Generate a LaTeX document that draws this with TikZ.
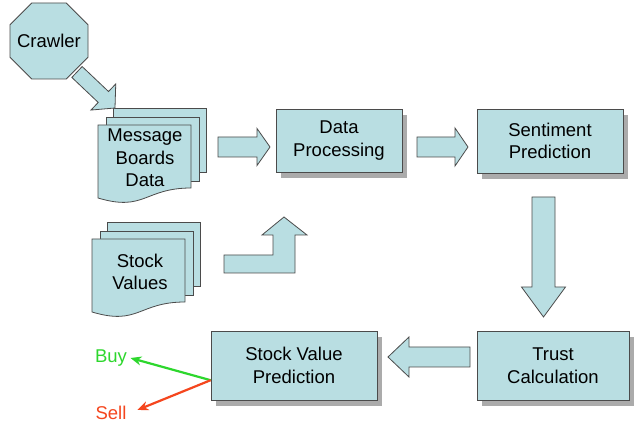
\documentclass[tikz,border=0pt]{standalone}
\usepackage{fontspec}
\setmainfont{Liberation Sans}
\usetikzlibrary{shapes.misc,shadows,calc,arrows.meta}

\definecolor{paleblue}{RGB}{185,222,226}
\definecolor{edgegray}{RGB}{75,75,75}
\definecolor{buygreen}{RGB}{45,215,45}
\definecolor{sellred}{RGB}{245,70,30}

% stack of three pages, #1,#2 = top left corner of the front page
\newcommand{\docstack}[2]{%
  \draw[page] ({#1+15},{#2-17}) rectangle ++(93,64);
  \draw[page] ({#1+8},{#2-8}) rectangle ++(93,64);
  \draw[page] (#1,#2) -- ++(93,0) -- ++(0,63)
    .. controls ({#1+46.5},{#2+63}) and ({#1+46.5},{#2+87}) .. (#1,{#2+73}) -- cycle;}

% fat arrow from #1 to #2: shaft half width #3, head half width #4, head length #5
\newcommand{\blockarrow}[5]{%
  \draw[fatarrow] let \p1=($(#2)-(#1)$), \n1={veclen(\x1,\y1)}, \n2={atan2(\y1,\x1)} in
    [shift={(#1)}, rotate=\n2]
    (0pt,#3pt) -- ({\n1-#5pt},#3pt) -- ({\n1-#5pt},#4pt) -- (\n1,0pt)
    -- ({\n1-#5pt},-#4pt) -- ({\n1-#5pt},-#3pt) -- (0pt,-#3pt) -- cycle;}

\begin{document}
\begin{tikzpicture}[x=1pt, y=-1pt,
    every node/.style={font=\fontsize{18.5}{22.5}\selectfont, align=center},
    process/.style={draw=edgegray, fill=paleblue, line width=0.8pt,
      drop shadow={shadow xshift=5pt, shadow yshift=-6pt, fill=black!33, opacity=1}},
    page/.style={draw=edgegray, fill=paleblue, line width=0.8pt},
    fatarrow/.style={draw=edgegray, fill=paleblue, line width=0.8pt},
    octagon/.style={chamfered rectangle, chamfered rectangle xsep=15pt,
      chamfered rectangle ysep=15pt, draw=edgegray, fill=paleblue, line width=0.8pt,
      minimum width=78pt, minimum height=76pt, inner sep=0pt},
    signal/.style={-{Stealth[length=11pt,width=9pt]}, line width=2.2pt}]
  \fill[white] (0,0) rectangle (635,427);
  \useasboundingbox (0,0) rectangle (635,427);

  \node[octagon] (crawler) at (49,41) {Crawler};

  \docstack{98}{125}
  \node (msg) at (145,158) {Message\\Boards\\Data};
  \docstack{92}{239}
  \node (stock) at (140,272) {Stock\\Values};

  \node[process, minimum width=126pt, minimum height=63pt] (dp) at (339,140.5) {Data\\Processing};
  \node[process, minimum width=146pt, minimum height=64pt] (sp) at (550,141) {Sentiment\\Prediction};
  \node[process, minimum width=152pt, minimum height=69pt] (tc) at (553,365.5) {Trust\\Calculation};
  \node[process, minimum width=166pt, minimum height=69pt] (svp) at (294,365.5) {Stock Value\\Prediction};

  \node[text=buygreen] (buy) at (111,358) {Buy};
  \node[text=sellred] (sell) at (111,413) {Sell};

  % fat arrows between the steps
  \coordinate (crawl-out) at (77,72);
  \coordinate (msg-in) at (115,108);
  \coordinate (msg-out) at (218,147);
  \coordinate (dp-in) at (270,147);
  \coordinate (dp-out) at (417,147);
  \coordinate (sp-in) at (468,147);
  \coordinate (sp-out) at (543.5,197);
  \coordinate (tc-in) at (543.5,317);
  \coordinate (tc-out) at (470,357);
  \coordinate (svp-in) at (388,357);
  \blockarrow{crawl-out}{msg-in}{7.5}{18}{16}
  \blockarrow{msg-out}{dp-in}{10}{18.5}{13}
  \blockarrow{dp-out}{sp-in}{10}{19}{13}
  \blockarrow{sp-out}{tc-in}{11.5}{22}{30}
  \blockarrow{tc-out}{svp-in}{10}{20}{21}

  % bent arrow from the stock values up to the processing
  \coordinate (stock-out) at (224,255);
  \draw[fatarrow] (stock-out) -- ++(49,0) -- ++(0,-20) -- ++(-11,0) -- (284,217)
    -- (307,235) -- ++(-12,0) -- ++(0,38) -- ++(-71,0) -- cycle;

  \draw[signal, buygreen] (svp.190) -- (buy.east);
  \draw[signal, sellred, shorten >=8pt] (svp.190) -- (sell.east);
\end{tikzpicture}
\end{document}
